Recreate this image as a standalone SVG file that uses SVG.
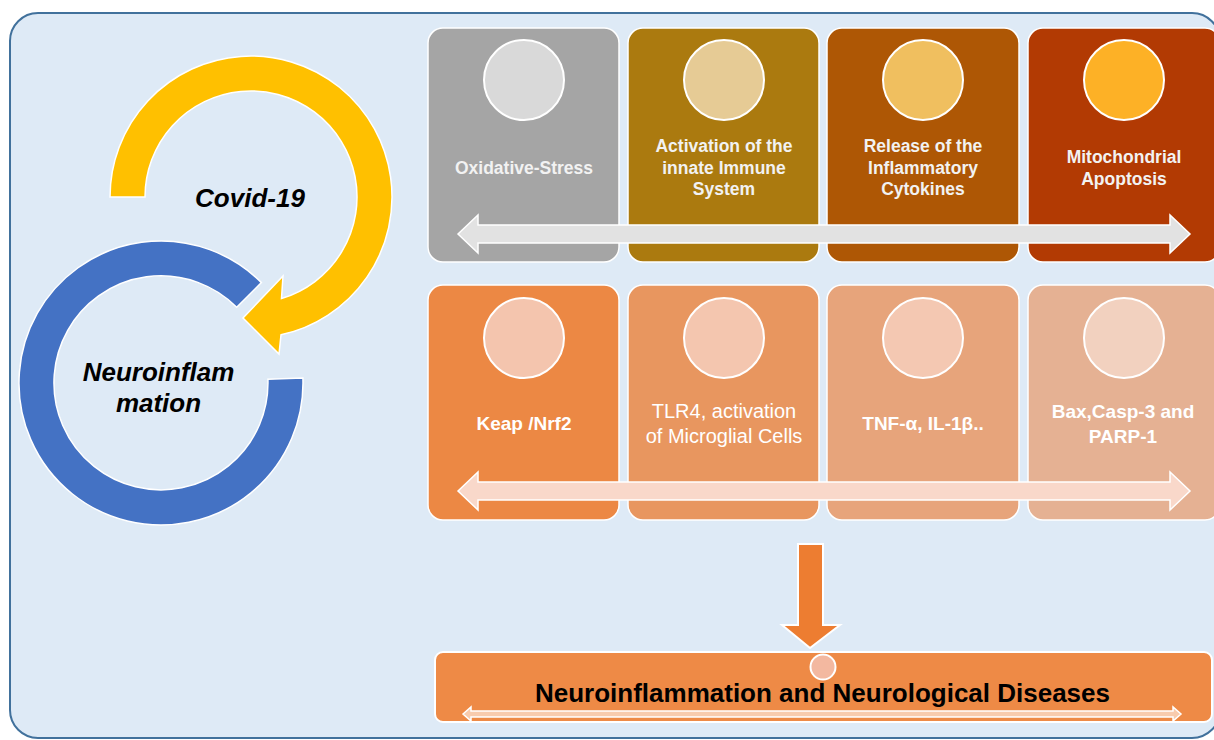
<svg xmlns="http://www.w3.org/2000/svg" width="1214" height="740" viewBox="0 0 1214 740">
<style>
.ws{stroke:#ffffff;stroke-width:1.5}
.t1{font-family:"Liberation Sans",Arial,sans-serif;font-weight:bold;font-size:17.5px;fill:#F2F2F2;text-anchor:middle}
.t2b{font-family:"Liberation Sans",Arial,sans-serif;font-weight:bold;font-size:19px;fill:#ffffff;text-anchor:middle}
.t2r{font-family:"Liberation Sans",Arial,sans-serif;font-size:20px;fill:#ffffff;text-anchor:middle}
.big{font-family:"Liberation Sans",Arial,sans-serif;font-weight:bold;font-style:italic;font-size:26px;fill:#000000;text-anchor:middle}
.circ{stroke:#ffffff;stroke-width:2}
</style>
<rect x="10" y="13" width="1210" height="725" rx="28" fill="#DEEAF6" stroke="#41719C" stroke-width="2"/>

<g id="covid-arrow">
<path d="M 110 197 A 141 141 0 1 1 281 334.8 L 279 354 L 243 318 L 283 276 L 281.5 298.5 A 106 106 0 1 0 145 197 Z" fill="#FFC000" class="ws"/>
<text class="big" x="250" y="207">Covid-19</text>
</g>
<g id="neuro-ring">
<path d="M 302.9 378 A 142 142 0 1 1 261.4 282.6 L 236.7 307.3 A 107 107 0 1 0 267.9 379.3 Z" fill="#4472C4" class="ws"/>
<text class="big" x="158.5" y="381">Neuroinflam</text>
<text class="big" x="158.5" y="412">mation</text>
</g>

<g id="row1">
<g id="oxidative">
<rect x="428" y="28" width="191" height="234" rx="15" fill="#A5A5A5" class="ws"/>
<circle cx="524" cy="80" r="40" fill="#D9D9D9" class="circ"/>
<text class="t1" x="524" y="174">Oxidative-Stress</text>
</g>
<g id="innate">
<rect x="628" y="28" width="191" height="234" rx="15" fill="#AB7A0F" class="ws"/>
<circle cx="724" cy="80" r="40" fill="#E6CB95" class="circ"/>
<text class="t1" x="724" y="152">Activation of the</text>
<text class="t1" x="724" y="173.5">innate Immune</text>
<text class="t1" x="724" y="195">System</text>
</g>
<g id="cytokines">
<rect x="827" y="28" width="192" height="234" rx="15" fill="#AE5705" class="ws"/>
<circle cx="923" cy="80" r="40" fill="#F0BF5F" class="circ"/>
<text class="t1" x="923" y="152">Release of the</text>
<text class="t1" x="923" y="173.5">Inflammatory</text>
<text class="t1" x="923" y="195">Cytokines</text>
</g>
<g id="mito">
<rect x="1028" y="28" width="192" height="234" rx="15" fill="#B23A03" class="ws"/>
<circle cx="1124" cy="80" r="40" fill="#FDB126" class="circ"/>
<text class="t1" x="1124" y="163">Mitochondrial</text>
<text class="t1" x="1124" y="185">Apoptosis</text>
</g>
</g>

<g id="row2">
<g id="keap">
<rect x="428" y="285" width="191" height="235" rx="15" fill="#EC8844" class="ws"/>
<circle cx="524" cy="338" r="40" fill="#F4C5AE" class="circ"/>
<text class="t2b" x="524" y="430">Keap /Nrf2</text>
</g>
<g id="tlr4">
<rect x="628" y="285" width="191" height="235" rx="15" fill="#E8965F" class="ws"/>
<circle cx="724" cy="338" r="40" fill="#F4C6AF" class="circ"/>
<text class="t2r" x="724" y="418">TLR4, activation</text>
<text class="t2r" x="724" y="443">of Microglial Cells</text>
</g>
<g id="tnf">
<rect x="827" y="285" width="192" height="235" rx="15" fill="#E7A47B" class="ws"/>
<circle cx="923" cy="338" r="40" fill="#F4C8B2" class="circ"/>
<text class="t2b" x="923" y="430">TNF-α, IL-1β..</text>
</g>
<g id="bax">
<rect x="1028" y="285" width="192" height="235" rx="15" fill="#E5B193" class="ws"/>
<circle cx="1124" cy="338" r="40" fill="#F2D1BF" class="circ"/>
<text class="t2b" x="1123" y="418">Bax,Casp-3 and</text>
<text class="t2b" x="1123" y="443">PARP-1</text>
</g>
</g>

<g id="bottom">
<rect x="435" y="652" width="777" height="70" rx="8" fill="#EE8A46" stroke="#ffffff" stroke-width="2"/>
<circle cx="823" cy="667" r="12.5" fill="#F3B8A0" class="circ"/>
<text x="822.5" y="702" font-family="Liberation Sans, Arial, sans-serif" font-weight="bold" font-size="26" fill="#000000" text-anchor="middle">Neuroinflammation and Neurological Diseases</text>
</g>

<g id="connectors">
<polygon points="458,234 478,215 478,225 1170,225 1170,215 1190,234 1170,253 1170,243 478,243 478,253" fill="#E2E2E2" class="ws"/>
<polygon points="458,491 478,472 478,482 1170,482 1170,472 1190,491 1170,510 1170,500 478,500 478,510" fill="#F9D8CA" class="ws"/>
<polygon points="798,544 823,544 823,625 840,625 810,648 782,625 798,625" fill="#ED7D31" stroke="#ffffff" stroke-width="2"/>
<polygon points="463,714 471,707 471,711 1173,711 1173,707 1181,714 1173,721 1173,717 471,717 471,721" fill="#F8CBAD" stroke="#ffffff" stroke-width="1.5"/>
</g>
</svg>
